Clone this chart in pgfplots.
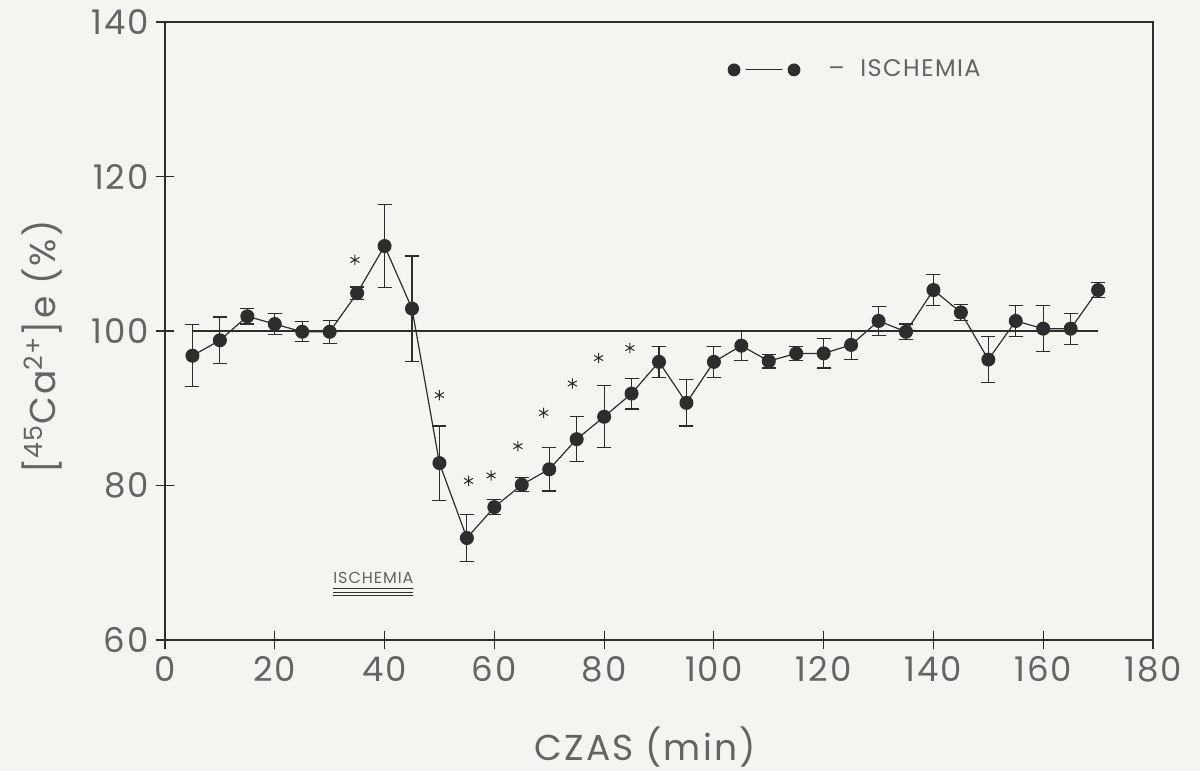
\documentclass[border=0pt]{standalone}
\usepackage{fontspec}
\setmainfont{Poppins}[LetterSpace=6]
\usepackage{pgfplots}
\usepackage{pgfplotstable}
\pgfplotsset{compat=1.18}
\definecolor{bg}{RGB}{244,244,240}
\definecolor{txt}{RGB}{100,100,100}
\definecolor{ln}{RGB}{45,45,45}

\pgfplotstableread{
x y e
5 96.8 4.0
10 98.8 3.0
15 101.9 1.0
20 100.9 1.4
25 99.9 1.3
30 99.9 1.5
35 104.9 0.8
40 111.0 5.4
45 102.9 6.8
50 82.9 4.8
55 73.2 3.0
60 77.2 1.0
65 80.1 0.9
70 82.1 2.8
75 86.0 2.9
80 88.9 4.0
85 91.9 2.0
90 96.0 2.0
95 90.7 3.0
100 96.0 2.0
105 98.1 1.9
110 96.1 0.9
115 97.1 0.9
120 97.1 1.9
125 98.2 1.9
130 101.3 1.9
135 99.9 1.0
140 105.3 2.0
145 102.4 1.0
150 96.3 3.0
155 101.3 2.0
160 100.3 3.0
165 100.3 2.0
170 105.3 1.0
}\maindata

\pgfplotstableread{
x y
34.6 109.2
50.0 91.7
55.3 80.6
59.4 81.3
64.3 85.1
69.0 89.4
74.2 93.2
79.0 96.5
84.7 97.8
}\stars

\begin{document}
\begin{tikzpicture}
\fill[bg] (-82.5pt,-65.5pt) rectangle (517.5pt,320pt);
\begin{axis}[
  scale only axis, width=494pt, height=309pt,
  xmin=0, xmax=180, ymin=60, ymax=140,
  xtick={0,20,...,180}, ytick={60,80,...,140},
  tick pos=left, tick align=center, major tick length=9pt,
  axis line style={ln, line width=0.6pt},
  every tick/.style={ln, line width=0.6pt},
  /pgf/number format/assume math mode=true,
  ticklabel style={font=\fontsize{17}{20}\selectfont, text=txt},
  xlabel={CZAS (min)},
  ylabel={[\textsuperscript{45}Ca\textsuperscript{2+}]e (\%)},
  label style={font=\fontsize{18}{21}\selectfont, text=txt},
  xlabel style={at={(axis description cs:0.486,-0.1731)}, anchor=center},
  ylabel style={at={(axis description cs:-0.1245,0.474)}, anchor=center},
  legend style={draw=none, fill=none, at={(0.563,0.9225)}, anchor=west,
    font=\fontsize{12}{14}\selectfont, text=txt},
  legend cell align=left,
]
\addplot[ln, line width=0.6pt, forget plot] coordinates {(5,100) (170,100)};
\addplot[ln, line width=0.6pt, mark=*, mark size=3.2pt,
  mark options={fill=ln, draw=ln},
  legend image code/.code={
    \draw[ln, line width=0.6pt] (6pt,0pt) -- (24pt,0pt);
    \fill[ln] (0pt,0pt) circle (2.9pt);
    \fill[ln] (30pt,0pt) circle (2.9pt);},
  error bars/.cd, y dir=both, y explicit,
  error bar style={line width=0.6pt, ln},
  error mark options={rotate=90, mark size=3.5pt, line width=0.6pt, ln}]
  table[x=x, y=y, y error=e] {\maindata};
\addlegendentry{\quad\textendash\ \ ISCHEMIA}
\addplot[only marks, mark=asterisk, mark size=2.6pt, ln, line width=0.5pt, forget plot]
  table[x=x, y=y] {\stars};
\node[anchor=west, inner sep=0pt, text=txt, font=\fontsize{8}{9}\selectfont] at (axis cs:30.6,68.1) {ISCHEMIA};
\draw[ln, line width=0.5pt] (axis cs:30.6,66.7) -- (axis cs:45.2,66.7);
\draw[ln, line width=0.5pt] (axis cs:30.6,66.2) -- (axis cs:45.2,66.2);
\draw[ln, line width=0.5pt] (axis cs:30.6,65.7) -- (axis cs:45.2,65.7);
\end{axis}
\pgfresetboundingbox
\path[use as bounding box] (-82.5pt,-65.5pt) rectangle (517.5pt,320pt);
\end{tikzpicture}
\end{document}
